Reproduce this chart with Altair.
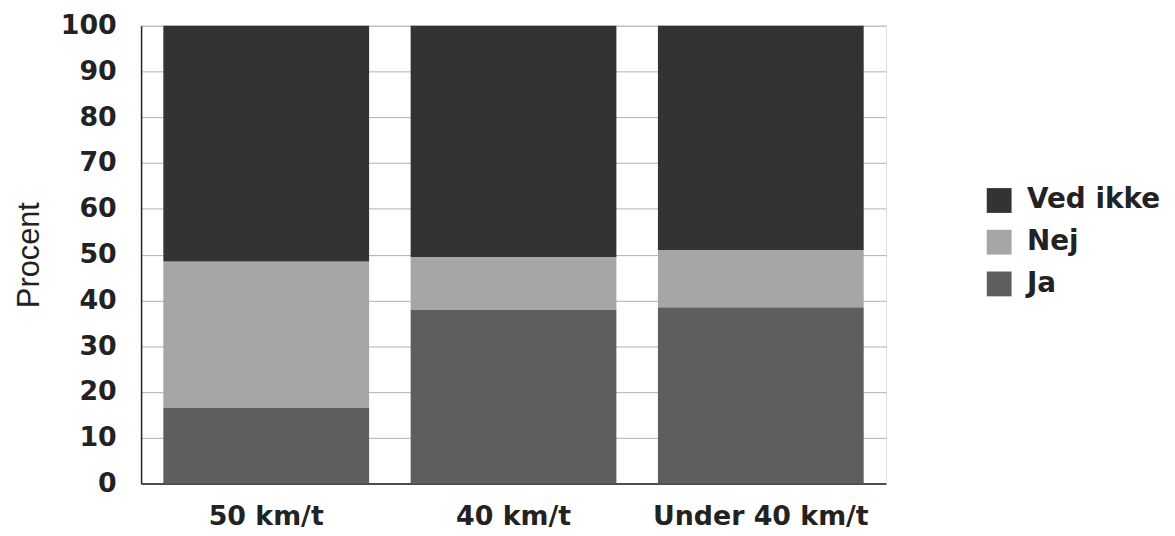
import altair as alt
import pandas as pd

categories = ["50 km/t", "40 km/t", "Under 40 km/t"]
series = ["Ja", "Nej", "Ved ikke"]
ja = [16.5, 38.0, 38.5]
nej = [32.0, 11.5, 12.5]
ved_ikke = [51.5, 50.5, 49.0]
y_ticks = [0, 10, 20, 30, 40, 50, 60, 70, 80, 90, 100]

rows = []
for i, c in enumerate(categories):
    for s, vals, o in [("Ja", ja, 0), ("Nej", nej, 1), ("Ved ikke", ved_ikke, 2)]:
        rows.append({"Kategori": c, "Svar": s, "Procent": vals[i], "ord": o})
df = pd.DataFrame(rows)

colors = ["#5e5e5e", "#a6a6a6", "#333333"]
label_font = "DejaVu Sans"

bars = alt.Chart(df).mark_bar(stroke=None).encode(
    x=alt.X("Kategori:N", sort=categories,
            scale=alt.Scale(paddingInner=0.168, paddingOuter=0.09),
            axis=alt.Axis(title=None, labelAngle=0, labelFontSize=27, labelFontWeight="bold",
                          labelFont=label_font, labelColor="#222222", labelPadding=20,
                          labelLimit=0, ticks=False, domainColor="#222222", domainWidth=1.5)),
    y=alt.Y("Procent:Q", stack="zero",
            scale=alt.Scale(domain=[0, 100], nice=False),
            axis=alt.Axis(values=y_ticks, title="Procent", titleFontSize=31, titleFontWeight="normal",
                          titleFont="Liberation Sans", titleColor="#222222", titlePadding=15,
                          labelFontSize=27, labelFontWeight="bold", labelFont=label_font,
                          labelColor="#222222", labelPadding=25, ticks=False,
                          domainColor="#222222", domainWidth=1.5,
                          grid=True, gridColor="#b0b0b0", gridWidth=1)),
    color=alt.Color("Svar:N", scale=alt.Scale(domain=series, range=colors),
                    sort=["Ved ikke", "Nej", "Ja"],
                    legend=alt.Legend(title=None, orient="none", legendX=850, legendY=162,
                                      symbolType="square", symbolSize=625, symbolStrokeWidth=0,
                                      labelFontSize=28, labelFontWeight="bold",
                                      labelFont=label_font, labelColor="#222222",
                                      rowPadding=14, labelOffset=14, labelLimit=0,
                                      values=["Ved ikke", "Nej", "Ja"])),
    order=alt.Order("ord:Q", sort="ascending"),
)

chart = bars.properties(
    width=750, height=461,
    autosize=alt.AutoSizeParams(type="none"),
    padding={"left": 134, "top": 16, "right": 283, "bottom": 51},
).configure_view(stroke="#b0b0b0", strokeWidth=1).configure(background="white")

chart.save("out.html", embed_options={"renderer": "svg", "actions": False})
